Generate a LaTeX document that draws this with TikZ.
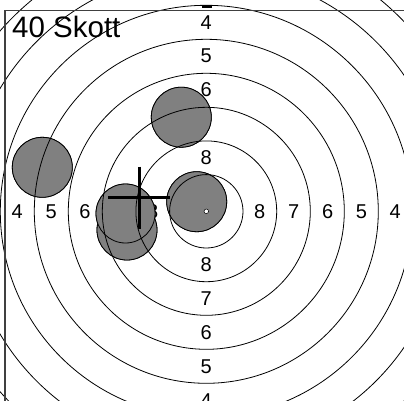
\documentclass[tikz,border=0pt]{standalone}
\usepackage{fontspec}
\setmainfont{Liberation Sans}
\usetikzlibrary{calc}
\begin{document}
\begin{tikzpicture}[x=1bp,y=-1bp,
  ring/.style={draw=black,line width=0.8bp},
  shot/.style={fill=shotgray,draw=black,line width=0.8bp},
  lab/.style={inner sep=0pt,font=\fontsize{20bp}{20bp}\selectfont},
  frameline/.style={draw=black!75,line width=1.5bp},
  crossline/.style={draw=black,line width=3bp}]
\definecolor{shotgray}{RGB}{128,128,128}
\useasboundingbox (0,0) rectangle (404,401);
\clip (0,0) rectangle (404,401);
\fill[white] (0,0) rectangle (404,401);
\coordinate (c) at (206.3,211.3);
% labels
\foreach \d/\t [count=\i] in {53.5/8,87.5/7,121.3/6,155.2/5,189/4}{
  \node[lab] (r\i) at ($(c)+(\d,0)$) {\t};
  \node[lab] (l\i) at ($(c)+(-\d,0)$) {\t};
  \node[lab] (b\i) at ($(c)+(0,\d)$) {\t};
}
\foreach \d/\t [count=\i] in {53.5/8,87.5/7,155.2/5,189/4}{
  \node[lab] (t\i) at ($(c)+(0,-\d)$) {\t};
}
% shots
\fill[shot] (181.3,117.2) circle (30);
\fill[shot] (42.3,167.3) circle (30);
\fill[shot] (196.7,201.7) circle (30);
\fill[shot] (127,230) circle (30);
\fill[shot] (125.5,213.5) circle (29.5);
\draw[shot] (181.3,117.2) circle (30);
\draw[shot] (42.3,167.3) circle (30);
\draw[shot] (196.7,201.7) circle (30);
\draw[shot] (127,230) circle (30);
\draw[shot] (125.5,213.5) circle (29.5);
\node[lab] (t6) at ($(c)+(0,-121.3)$) {6};
% rings
\foreach \r in {36.7,70.4,104,138,172,206,240,274,308,342}{
  \draw[ring] (c) circle (\r);
}
\draw[ring,fill=white,line width=0.5bp] (c) circle (2.3);
% crosshair
\coordinate (m) at (139.3,197.7);
\draw[crossline] ($(m)+(-31,0)$) -- ($(m)+(31,0)$);
\draw[crossline] ($(m)+(0,-31)$) -- ($(m)+(0,31)$);
% frame
\coordinate (f1) at (5,10.3);
\coordinate (f2) at (404,10.3);
\coordinate (f3) at (5,401);
\draw[frameline] (f2) -- (f1) -- (f3);
\coordinate (d1) at (201.7,6.7);
\coordinate (d2) at (212.3,6.7);
\draw[line width=2.5bp] (d1) -- (d2);
% title
\node[inner sep=0pt,anchor=base west,font=\fontsize{29.5bp}{29.5bp}\selectfont] (title) at (12,37) {40 Skott};
\end{tikzpicture}
\end{document}
